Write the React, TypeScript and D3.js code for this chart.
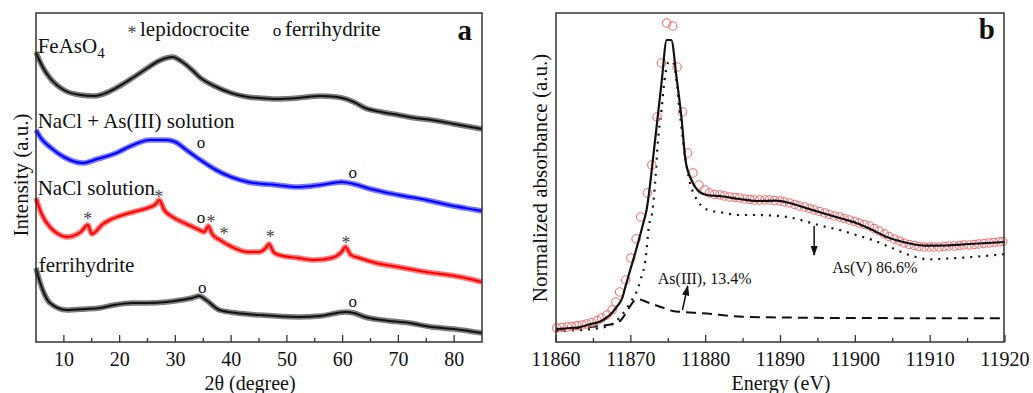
import React from "react";
import * as d3 from "d3";

// ---------- Panel a : XRD ----------
const xrdTicks = [10, 20, 30, 40, 50, 60, 70, 80];
const xrdMinorTicks = [15, 25, 35, 45, 55, 65, 75];

// [2theta, intensity (a.u., stacked offset)]
const feAsO4: [number, number][] = [
  [5, 290], [5.5, 283], [6.5, 272], [7.5, 264], [10, 252], [13, 247], [15.5, 246], [18, 250],
  [20, 256], [22.3, 264], [25, 274], [27, 281], [28.4, 284], [29.5, 285], [31, 281], [33, 272],
  [34.3, 265], [37, 256], [40, 249], [43, 245], [45, 244], [48, 243], [52, 244], [56, 246],
  [59, 245], [62, 240], [64, 234], [67, 230], [70, 227], [73, 224], [76, 222], [80, 218],
  [84, 214], [85, 213],
];
const naclAs: [number, number][] = [
  [5, 212], [6, 203], [7.5, 195], [10, 185], [13.4, 179], [16, 183], [19.4, 189], [22, 196],
  [25.4, 202], [28.4, 202], [30, 200], [32, 192], [34.5, 182], [37.3, 172], [40, 165],
  [43, 160], [48, 157], [52, 155], [56, 157], [59.8, 160], [62, 158], [65, 153], [70, 147],
  [75, 142], [79, 137], [84, 132], [85, 131],
];
const naclSol: [number, number][] = [
  [5, 144], [6, 128], [7.5, 115], [9, 108], [10.5, 105], [13, 110], [14.3, 117], [15, 108],
  [17, 118], [18.2, 122], [20, 126], [22.4, 130], [25, 134], [26.5, 138], [27.1, 142],
  [28, 132], [29.5, 125], [32, 118], [34.3, 112], [35.2, 110], [35.9, 116], [36.6, 108],
  [38, 102], [40.2, 95], [43, 90], [45, 90], [46.2, 94], [46.8, 98], [47.6, 90], [48.6, 87],
  [52, 84], [55, 82], [58, 84], [59.8, 90], [60.5, 95], [61.5, 87], [63, 84], [66, 79],
  [70, 75], [75, 70], [79, 67], [82, 64], [85, 60],
];
const ferri: [number, number][] = [
  [5, 74], [5.7, 60], [6.5, 48], [7.5, 39], [10.5, 32], [14, 33], [16.4, 34], [19, 37],
  [22.3, 39], [25, 39], [28.4, 40], [31, 42], [33, 44], [34.3, 46], [35.5, 42], [37.9, 32],
  [41, 29], [45, 27], [52, 25], [56, 26], [60.5, 30], [62, 29], [64, 25], [67, 22], [72, 19],
  [76, 15], [80, 13], [85, 9],
];
const xrdSeries = [
  { name: "FeAsO4", data: feAsO4, color: "#111111" },
  { name: "NaCl + As(III) solution", data: naclAs, color: "#0000ff" },
  { name: "NaCl solution", data: naclSol, color: "#ff0000" },
  { name: "ferrihydrite", data: ferri, color: "#111111" },
];
// peak markers: [2theta, intensity, symbol]
const xrdMarks: [number, number, string][] = [
  [34.6, 199, "o"], [61.8, 169, "o"],
  [27.0, 149, "*"], [14.3, 127, "*"], [34.6, 124, "o"], [36.4, 124, "*"], [38.7, 112, "*"],
  [47.0, 109, "*"], [60.6, 103, "*"],
  [34.8, 54, "o"], [61.8, 40, "o"],
];
const xrdLabels: [number, number, string][] = [
  [5.3, 289, "FeAsO4"],
  [5.3, 214, "NaCl + As(III) solution"],
  [5.3, 147, "NaCl solution"],
  [5.5, 70, "ferrihydrite"],
];

// ---------- Panel b : XANES ----------
const xasTicks = [11860, 11870, 11880, 11890, 11900, 11910, 11920];
const xasMinorTicks = [11865, 11875, 11885, 11895, 11905, 11915];

// experimental points [energy, absorbance]
const xasExp: [number, number][] = [
  [11860.1, 14], [11860.8, 14.5], [11861.5, 15], [11862.1, 15.5], [11862.8, 16.2], [11863.5, 17],
  [11864.1, 18], [11864.8, 19.5], [11865.5, 21.5], [11866.1, 24], [11866.8, 27], [11867.5, 32],
  [11868.0, 40], [11868.5, 50], [11869.3, 62], [11870.0, 84], [11870.7, 103], [11871.3, 125],
  [11872.2, 149], [11872.8, 177], [11873.5, 225], [11874.1, 279], [11874.8, 319], [11875.6, 316],
  [11876.2, 275], [11876.9, 230], [11877.6, 189], [11878.3, 169], [11879.1, 157], [11879.9, 152],
  [11880.5, 149], [11881.2, 147.5], [11881.9, 147], [11882.5, 146], [11883.2, 145], [11883.9, 144.5],
  [11884.5, 144], [11885.2, 143], [11885.9, 142.5], [11886.5, 142], [11887.2, 142], [11887.9, 142],
  [11888.5, 142], [11889.2, 141.5], [11889.9, 141], [11890.5, 140], [11891.2, 139], [11891.9, 137.5],
  [11892.5, 136], [11893.2, 135], [11893.9, 133.5], [11894.5, 132], [11895.2, 130.5], [11895.9, 129],
  [11896.5, 127.5], [11897.2, 126], [11897.9, 125], [11898.5, 123.5], [11899.2, 122], [11899.9, 120.5],
  [11900.5, 119], [11901.2, 117.5], [11901.9, 116], [11902.5, 113.5], [11903.2, 111], [11903.9, 108],
  [11904.5, 105.5], [11905.2, 103], [11905.9, 101], [11906.5, 99], [11907.2, 97.5], [11907.9, 96.5],
  [11908.5, 95.5], [11909.2, 95], [11909.9, 95], [11910.5, 95], [11911.2, 95], [11911.9, 95.5],
  [11912.5, 96], [11913.2, 96], [11913.9, 96.5], [11914.5, 97], [11915.2, 97], [11915.9, 97.5],
  [11916.5, 98], [11917.2, 98.5], [11917.9, 99], [11918.5, 99.5], [11919.2, 100], [11919.7, 100.5],
];
// linear combination fit
const xasFit: [number, number][] = [
  [11860, 13], [11861.9, 14], [11863.2, 15], [11864.4, 17.5], [11865.9, 20.5], [11866.7, 24],
  [11867.2, 27], [11868.0, 34], [11868.9, 45], [11869.3, 56], [11869.8, 69], [11870.7, 92],
  [11871.6, 117], [11872.1, 132], [11873.2, 199], [11874.1, 259], [11874.8, 302], [11875.4, 302],
  [11876.1, 265], [11876.8, 222], [11877.3, 182], [11878.1, 162], [11878.9, 152], [11880.1, 147],
  [11882.3, 145.5], [11884.5, 143], [11886.8, 141], [11889.4, 141.3], [11891.2, 139], [11893.4, 134],
  [11895.6, 129], [11897.9, 124], [11900.1, 119], [11902.3, 112], [11904.1, 105.3], [11905.4, 102],
  [11907.6, 98], [11909.4, 96.3], [11912.1, 96.5], [11915.2, 98], [11920, 100],
];
// As(V) component (dotted)
const xasAsV: [number, number][] = [
  [11860, 11], [11864.4, 12.7], [11866.7, 15.3], [11868.2, 22], [11869.3, 32], [11870, 40.3],
  [11870.7, 49], [11871.3, 62], [11872, 85], [11872.4, 115], [11872.9, 132], [11873.3, 165],
  [11873.6, 199], [11874.1, 232], [11874.5, 262], [11875.1, 280], [11875.6, 280], [11876.1, 262],
  [11876.5, 232], [11877.2, 189], [11877.9, 159], [11878.5, 147], [11879, 140.3], [11880.1, 132.7],
  [11882.3, 129.3], [11884.5, 127], [11886.8, 127], [11888.9, 126.5], [11891.2, 124.7],
  [11893.4, 120.5], [11895.6, 116], [11897.9, 112], [11900.1, 107], [11902.3, 102], [11904.5, 95.3],
  [11907.2, 87], [11909.9, 82.7], [11912.9, 83.7], [11916.1, 85.3], [11920, 88],
];
// As(III) component (dashed)
const xasAsIII: [number, number][] = [
  [11860, 12], [11864.9, 15.3], [11868.1, 18.7], [11868.8, 23], [11869.6, 32], [11870.3, 40],
  [11871, 42.7], [11872.3, 39.5], [11873.9, 35.3], [11875.6, 31], [11876.9, 30], [11879.6, 28.7],
  [11884.9, 25.3], [11888.5, 24.7], [11899.2, 24], [11920, 23.7],
];
const xasNotes = [
  { text: "As(III), 13.4%", x: 11873.6, y: 58, from: [11876.9, 32], to: [11877.6, 56] },
  { text: "As(V) 86.6%", x: 11896.9, y: 69, from: [11894.5, 116], to: [11894.5, 87] },
];

const FONT = "'Liberation Serif', 'Times New Roman', serif";

const W = 1033, H = 393;
const A = { left: 36, right: 482, top: 13, bottom: 342 };
const B = { left: 556, right: 1004, top: 13, bottom: 342 };

export default function App() {
  const xa = d3.scaleLinear().domain([5, 85]).range([A.left, A.right]);
  const ya = d3.scaleLinear().domain([0, 329]).range([A.bottom, A.top]);
  const xb = d3.scaleLinear().domain([11860, 11920]).range([B.left, B.left + 449]);
  const yb = d3.scaleLinear().domain([0, 329]).range([B.bottom, B.top]);

  const lineA = d3.line<[number, number]>().x((d) => xa(d[0])).y((d) => ya(d[1])).curve(d3.curveMonotoneX);
  const lineB = d3.line<[number, number]>().x((d) => xb(d[0])).y((d) => yb(d[1])).curve(d3.curveMonotoneX);

  return (
    <svg width={W} height={H} style={{ position: "absolute", left: 0, top: 0, background: "#fff" }} fontFamily={FONT}>
      <defs>
        <marker id="arr" viewBox="0 0 10 10" refX="9" refY="5" markerWidth="7" markerHeight="7" orient="auto">
          <path d="M0,1.5 L10,5 L0,8.5 z" fill="#111" />
        </marker>
      </defs>
      <rect width={W} height={H} fill="#fff" />

      {/* ---------- Panel a ---------- */}
      <g>
        {xrdSeries.map((s) => (
          <g key={s.name}>
            <path d={lineA(s.data) || ""} fill="none" stroke={s.color} strokeWidth={5.5} strokeOpacity={0.55} strokeLinejoin="round" />
            <path d={lineA(s.data) || ""} fill="none" stroke={s.color} strokeWidth={2} strokeLinejoin="round" />
          </g>
        ))}
        {xrdMarks.map((m, i) => (
          <text key={i} x={xa(m[0])} y={ya(m[1]) + (m[2] === "*" ? 10 : 5)} textAnchor="middle"
            fontSize={m[2] === "*" ? 18 : 17} fill={m[2] === "*" ? "#444" : "#111"}>{m[2]}</text>
        ))}
        {xrdLabels.map((l) => (
          <text key={l[2]} x={xa(l[0])} y={ya(l[1])} fontSize={21} fill="#111">
            {l[2] === "FeAsO4" ? (<>FeAsO<tspan dy={5} fontSize={15}>4</tspan></>) : l[2]}
          </text>
        ))}
        {/* legend */}
        <text x={132} y={39} textAnchor="middle" fontSize={18} fill="#444">*</text>
        <text x={140} y={36} fontSize={21} fill="#111">lepidocrocite</text>
        <text x={277} y={36} textAnchor="middle" fontSize={17} fill="#111">o</text>
        <text x={285} y={36} fontSize={21} fill="#111">ferrihydrite</text>
        <text x={472} y={40} textAnchor="end" fontSize={29} fontWeight="bold" fill="#111">a</text>

        <rect x={A.left} y={A.top} width={A.right - A.left} height={A.bottom - A.top} fill="none" stroke="#333" strokeWidth={1.5} />
        {xrdTicks.map((t) => (
          <g key={t}>
            <line x1={xa(t)} x2={xa(t)} y1={A.bottom} y2={A.bottom - 7} stroke="#333" strokeWidth={1.3} />
            <text x={xa(t)} y={366} textAnchor="middle" fontSize={20} fill="#111">{t}</text>
          </g>
        ))}
        {xrdMinorTicks.map((t) => (
          <line key={t} x1={xa(t)} x2={xa(t)} y1={A.bottom} y2={A.bottom - 4} stroke="#333" strokeWidth={1.3} />
        ))}
        <text x={250} y={390} textAnchor="middle" fontSize={20} fill="#111">2θ (degree)</text>
        <text transform="translate(28,175) rotate(-90)" textAnchor="middle" fontSize={21} fill="#111">Intensity (a.u.)</text>
      </g>

      {/* ---------- Panel b ---------- */}
      <g>
        <path d={lineB(xasAsIII) || ""} fill="none" stroke="#111" strokeWidth={2} strokeDasharray="10 6" />
        <path d={lineB(xasAsV) || ""} fill="none" stroke="#111" strokeWidth={2.2} strokeDasharray="2 6" />
        {xasExp.map((d, i) => (
          <circle key={i} cx={xb(d[0])} cy={yb(d[1])} r={4.2} fill="none" stroke="#f26d6d" strokeWidth={1.1} />
        ))}
        <path d={lineB(xasFit) || ""} fill="none" stroke="#111" strokeWidth={2.2} />
        {xasNotes.map((n) => (
          <g key={n.text}>
            <line x1={xb(n.from[0])} y1={yb(n.from[1])} x2={xb(n.to[0])} y2={yb(n.to[1])} stroke="#111" strokeWidth={1.5} markerEnd="url(#arr)" />
            <text x={xb(n.x)} y={yb(n.y)} fontSize={16} fill="#111">{n.text}</text>
          </g>
        ))}
        <text x={995} y={39} textAnchor="end" fontSize={29} fontWeight="bold" fill="#111">b</text>
        <rect x={B.left} y={B.top} width={B.right - B.left} height={B.bottom - B.top} fill="none" stroke="#333" strokeWidth={1.5} />
        {xasTicks.map((t) => (
          <g key={t}>
            <line x1={xb(t)} x2={xb(t)} y1={B.bottom} y2={B.bottom - 7} stroke="#333" strokeWidth={1.3} />
            <text x={xb(t)} y={366} textAnchor="middle" fontSize={20} fill="#111">{t}</text>
          </g>
        ))}
        {xasMinorTicks.map((t) => (
          <line key={t} x1={xb(t)} x2={xb(t)} y1={B.bottom} y2={B.bottom - 4} stroke="#333" strokeWidth={1.3} />
        ))}
        <text x={781} y={390} textAnchor="middle" fontSize={20} fill="#111">Energy (eV)</text>
        <text transform="translate(547,178) rotate(-90)" textAnchor="middle" fontSize={21} fill="#111">Normalized absorbance (a.u.)</text>
      </g>
    </svg>
  );
}
